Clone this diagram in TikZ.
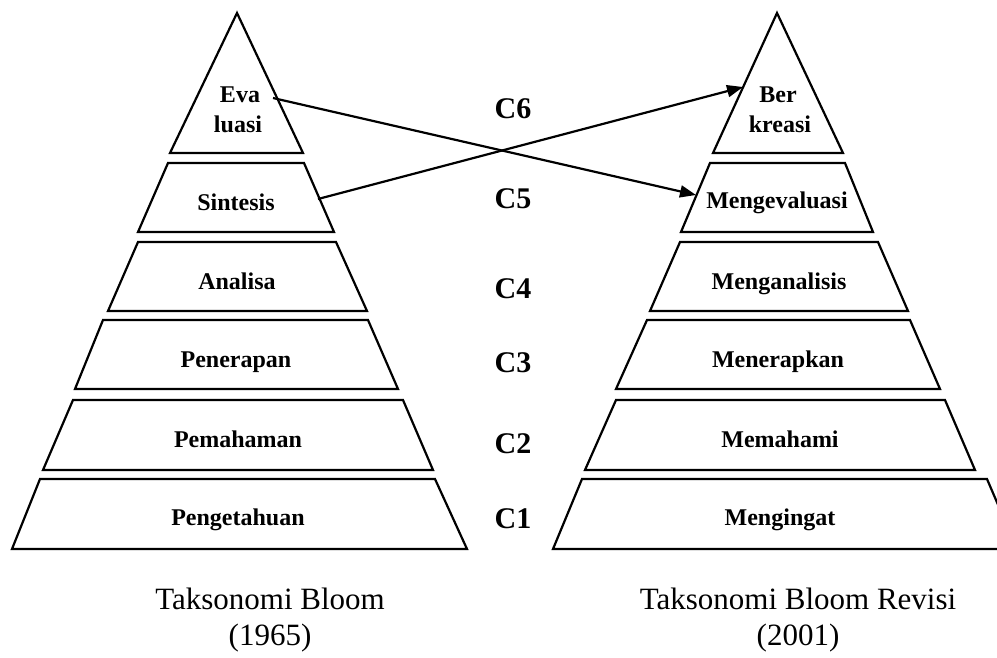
\documentclass[tikz,border=0pt]{standalone}
\usepackage{fontspec}
\setmainfont{Liberation Serif}
\usetikzlibrary{arrows.meta}
\begin{document}
\begin{tikzpicture}[x=1pt,y=-1pt,
  band/.style={draw=black,line width=2.2pt,line join=miter,fill=white},
  lbl/.style={anchor=base,inner sep=0pt,font=\fontsize{24}{28}\selectfont\bfseries},
  clbl/.style={anchor=base,inner sep=0pt,font=\fontsize{30}{36}\selectfont\bfseries},
  captxt/.style={anchor=base,inner sep=0pt,font=\fontsize{31}{36}\selectfont},
  arr/.style={line width=2.2pt,-{Triangle[length=16pt,width=12pt]}}]
\useasboundingbox (0,0) rectangle (997,657);
% left pyramid
\draw[band] (237,13) -- (303,153) -- (170,153) -- cycle;
\draw[band] (168,163) -- (304,163) -- (334,232) -- (138,232) -- cycle;
\draw[band] (138,242) -- (336,242) -- (367,311) -- (108,311) -- cycle;
\draw[band] (103,320) -- (368,320) -- (398,389) -- (75,389) -- cycle;
\draw[band] (73,400) -- (403,400) -- (433,470) -- (43,470) -- cycle;
\draw[band] (40,479) -- (435,479) -- (467,549) -- (12,549) -- cycle;
% right pyramid
\draw[band] (777,13) -- (843,153) -- (713,153) -- cycle;
\draw[band] (710,163) -- (845,163) -- (873,232) -- (681,232) -- cycle;
\draw[band] (680,242) -- (878,242) -- (908,311) -- (650,311) -- cycle;
\draw[band] (647,320) -- (910,320) -- (940,389) -- (616,389) -- cycle;
\draw[band] (616,400) -- (945,400) -- (975,470) -- (585,470) -- cycle;
\draw[band] (582,479) -- (987,479) -- (1017,549) -- (553,549) -- cycle;
% left labels
\node[lbl] (eva) at (240,102) {Eva};
\node[lbl] (luasi) at (238,132) {luasi};
\node[lbl] (sintesis) at (236,210) {Sintesis};
\node[lbl] (analisa) at (237,289) {Analisa};
\node[lbl] (penerapan) at (236,367) {Penerapan};
\node[lbl] (pemahaman) at (238,447) {Pemahaman};
\node[lbl] (pengetahuan) at (238,525) {Pengetahuan};
% right labels
\node[lbl] (ber) at (778,102) {Ber};
\node[lbl] (kreasi) at (780,132) {kreasi};
\node[lbl] (mengevaluasi) at (777,208) {Mengevaluasi};
\node[lbl] (menganalisis) at (779,289) {Menganalisis};
\node[lbl] (menerapkan) at (778,367) {Menerapkan};
\node[lbl] (memahami) at (780,447) {Memahami};
\node[lbl] (mengingat) at (780,525) {Mengingat};
% C labels
\node[clbl] (c6) at (513,118) {C6};
\node[clbl] (c5) at (513,208) {C5};
\node[clbl] (c4) at (513,298) {C4};
\node[clbl] (c3) at (513,372) {C3};
\node[clbl] (c2) at (513,453) {C2};
\node[clbl] (c1) at (513,528) {C1};
% captions
\node[captxt] (capL1) at (270,609) {Taksonomi Bloom};
\node[captxt] (capL2) at (270,645) {(1965)};
\node[captxt] (capR1) at (798,609) {Taksonomi Bloom Revisi};
\node[captxt] (capR2) at (798,645) {(2001)};
% arrows
\coordinate (evaOut) at (273,98);
\coordinate (sinOut) at (318,199);
\coordinate (mevIn) at (696,195);
\coordinate (berIn) at (743,87);
\draw[arr] (evaOut) -- (mevIn);
\draw[arr] (sinOut) -- (berIn);
\end{tikzpicture}
\end{document}
